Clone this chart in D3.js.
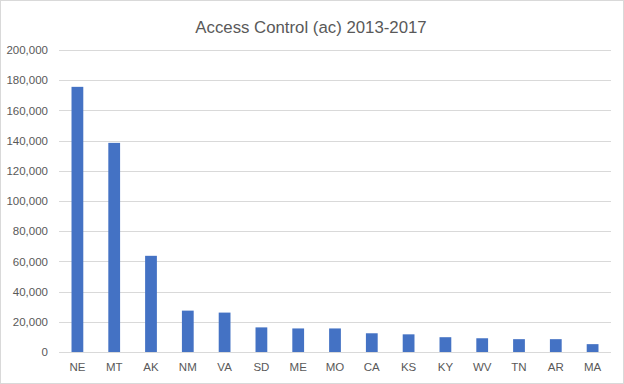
<!DOCTYPE html>
<html>
<head>
<meta charset="utf-8">
<script src="https://cdn.jsdelivr.net/npm/d3@7"></script>
<style>
  html, body { margin: 0; padding: 0; background: #fff; }
  #chart { width: 624px; height: 384px; }
  text { font-family: "Liberation Sans", "Noto Sans", sans-serif; fill: #595959; }
</style>
</head>
<body>
<div id="chart"></div>
<script>
// dados
const estados = ["NE", "MT", "AK", "NM", "VA", "SD", "ME", "MO", "CA", "KS", "KY", "WV", "TN", "AR", "MA"];
const valores = [175600, 138500, 63700, 27400, 26100, 16300, 15600, 15600, 12400, 11700, 9800, 9100, 8500, 8500, 5200];
const yTicks = [0, 20000, 40000, 60000, 80000, 100000, 120000, 140000, 160000, 180000, 200000];

const W = 624, H = 384;
const margin = { top: 50, right: 13, bottom: 32, left: 59 };
const width = W - margin.left - margin.right;
const height = H - margin.top - margin.bottom;

const svg = d3.select("#chart").append("svg")
  .attr("width", W)
  .attr("height", H);

// borda do gráfico
svg.append("rect")
  .attr("x", 0.5).attr("y", 0.5)
  .attr("width", W - 1).attr("height", H - 1)
  .attr("fill", "#fff")
  .attr("stroke", "#d9d9d9");

const g = svg.append("g")
  .attr("transform", `translate(${margin.left},${margin.top})`);

const x = d3.scaleBand()
  .domain(estados)
  .range([0, width])
  .paddingInner(0.68)
  .paddingOuter(0.34);

const y = d3.scaleLinear()
  .domain([0, 200000])
  .range([height, 0]);

// linhas de grade
g.append("g")
  .selectAll("line")
  .data(yTicks)
  .join("line")
  .attr("x1", 0)
  .attr("x2", width)
  .attr("y1", d => Math.round(y(d)) + 0.5)
  .attr("y2", d => Math.round(y(d)) + 0.5)
  .attr("stroke", "#d9d9d9")
  .attr("stroke-width", 1);

// eixo y
const yAxis = g.append("g")
  .call(d3.axisLeft(y)
    .tickValues(yTicks)
    .tickSize(0)
    .tickPadding(11)
    .tickFormat(d3.format(",")));
yAxis.select(".domain").remove();
yAxis.selectAll("text")
  .style("font-size", "11.5px")
  .style("fill", "#595959");

// barras
g.selectAll(".bar")
  .data(estados)
  .join("rect")
  .attr("class", "bar")
  .attr("x", d => x(d))
  .attr("width", x.bandwidth())
  .attr("y", (d, i) => y(valores[i]))
  .attr("height", (d, i) => height - y(valores[i]))
  .attr("fill", "#4472c4");

// eixo x
const xAxis = g.append("g")
  .attr("transform", `translate(0,${height})`)
  .call(d3.axisBottom(x).tickSize(0).tickPadding(11));
xAxis.select(".domain").remove();
xAxis.selectAll("text")
  .style("font-size", "11.5px")
  .style("fill", "#595959");

// título
svg.append("text")
  .attr("x", 311)
  .attr("y", 33)
  .attr("text-anchor", "middle")
  .style("font-size", "16.8px")
  .text("Access Control (ac) 2013-2017");
</script>
</body>
</html>
